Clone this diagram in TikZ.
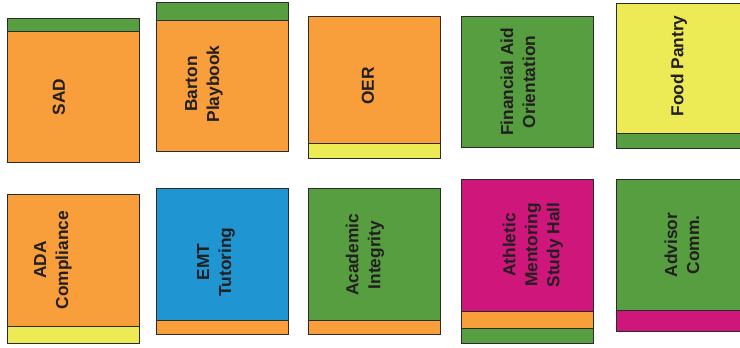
\documentclass[tikz,border=0pt]{standalone}
\usepackage{fontspec}
\setmainfont{Liberation Sans}
\usepackage{xcolor}
\usepackage{tikz}

\definecolor{cardorange}{HTML}{F89E3B}
\definecolor{cardgreen}{HTML}{569E40}
\definecolor{cardyellow}{HTML}{EDEB55}
\definecolor{cardblue}{HTML}{1F95D1}
\definecolor{cardpink}{HTML}{CF177B}
\definecolor{cardedge}{HTML}{2B2B2B}
\definecolor{cardtext}{HTML}{231F20}

\begin{document}
\begin{tikzpicture}[x=0.75pt,y=-0.75pt,
    card/.style={draw=cardedge,line width=0.6pt},
    label/.style={rotate=90,align=center,text=cardtext,
      font=\bfseries\fontsize{13}{16.5}\selectfont}]
  \useasboundingbox (0,0) rectangle (740,347);
  \clip (0,0) rectangle (740,347);
  % top row
  \filldraw[card,fill=cardgreen]  (7,18) rectangle (139,31);
  \filldraw[card,fill=cardorange] (7,31) rectangle (139,162);
  \node[label] (sad) at (59,97) {SAD};

  \filldraw[card,fill=cardgreen]  (156,2) rectangle (288,20);
  \filldraw[card,fill=cardorange] (156,20) rectangle (288,151);
  \node[label] (barton) at (204,84) {Barton\\Playbook};

  \filldraw[card,fill=cardorange] (308,16) rectangle (440,143);
  \filldraw[card,fill=cardyellow] (308,143) rectangle (440,158);
  \node[label] (oer) at (368,86) {OER};

  \filldraw[card,fill=cardgreen] (461,16) rectangle (593,147);
  \node[label] (finaid) at (518,82) {Financial Aid\\Orientation};

  \filldraw[card,fill=cardyellow] (616,3) rectangle (748,133);
  \filldraw[card,fill=cardgreen]  (616,133) rectangle (748,148);
  \node[label] (pantry) at (679,66) {Food Pantry};

  % bottom row
  \filldraw[card,fill=cardorange] (7,194) rectangle (139,326);
  \filldraw[card,fill=cardyellow] (7,326) rectangle (139,343);
  \node[label] (ada) at (53,260) {ADA\\Compliance};

  \filldraw[card,fill=cardblue]   (156,188) rectangle (288,320);
  \filldraw[card,fill=cardorange] (156,320) rectangle (288,334);
  \node[label] (emt) at (216,262) {EMT\\Tutoring};

  \filldraw[card,fill=cardgreen]  (308,188) rectangle (440,320);
  \filldraw[card,fill=cardorange] (308,320) rectangle (440,334);
  \node[label] (integrity) at (365,255) {Academic\\Integrity};

  \filldraw[card,fill=cardpink]   (461,179) rectangle (593,311);
  \filldraw[card,fill=cardorange] (461,311) rectangle (593,328);
  \filldraw[card,fill=cardgreen]  (461,328) rectangle (593,343);
  \node[label] (athletic) at (533,245) {Athletic\\Mentoring\\Study Hall};

  \filldraw[card,fill=cardgreen] (616,179) rectangle (748,310);
  \filldraw[card,fill=cardpink]  (616,310) rectangle (748,331);
  \node[label] (advisor) at (682,245) {Advisor\\Comm.};
\end{tikzpicture}
\end{document}
